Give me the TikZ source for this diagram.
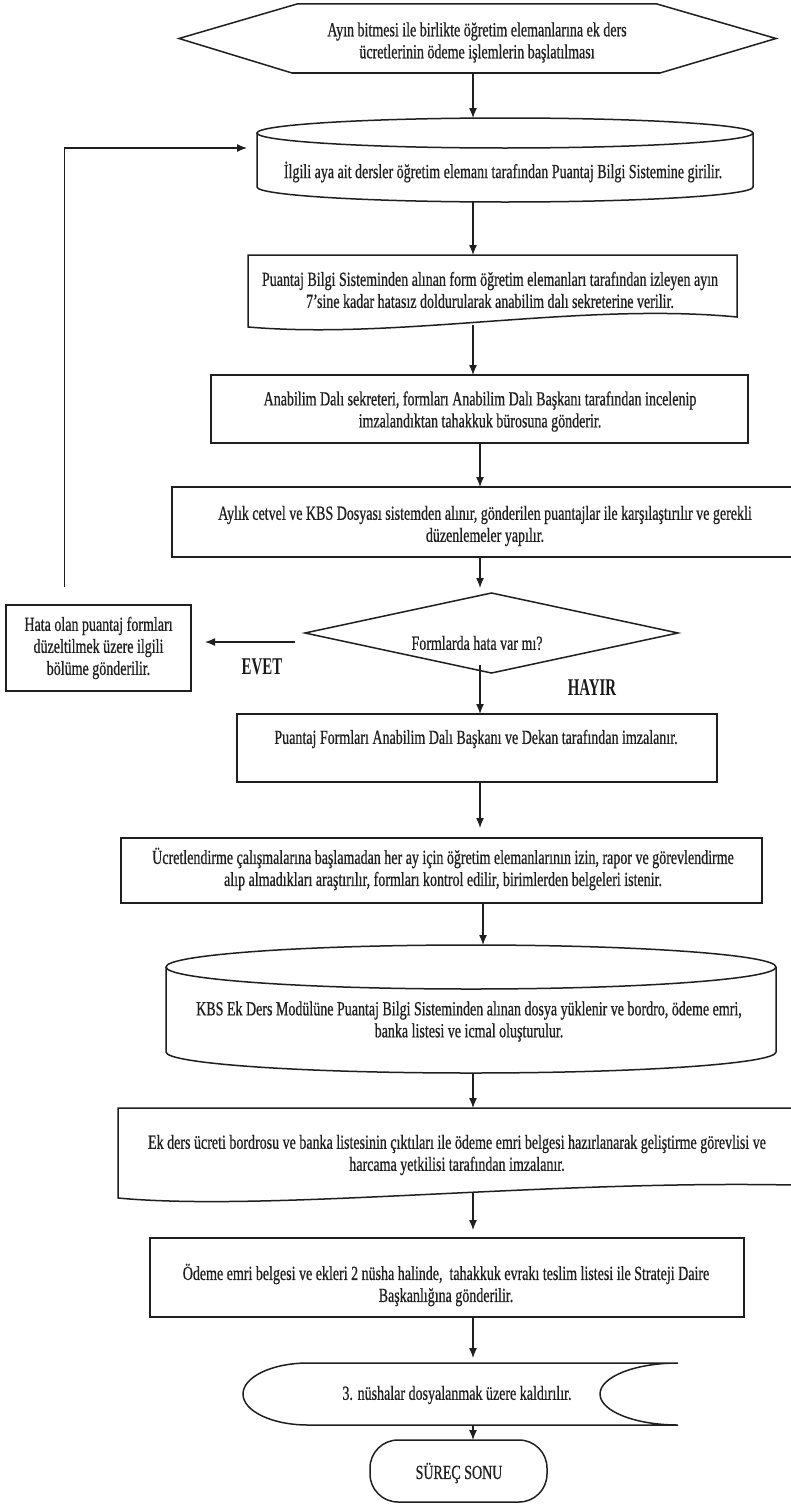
\documentclass[tikz,border=0pt]{standalone}
\usepackage{fontspec}
\setmainfont{Liberation Serif}
\newfontfamily\tf[FakeStretch=0.70,FakeBold=0.6]{Liberation Serif}
\newfontfamily\lf[FakeStretch=0.62]{Liberation Serif}
\usetikzlibrary{arrows.meta,calc}
\begin{document}
\begin{tikzpicture}[x=1pt,y=1pt,
  outl/.style={draw=black!88, line width=1.5pt, line join=miter},
  sh/.style={inner sep=0pt, outer sep=0pt, draw=none},
  bx/.style={sh, outl},
  txt/.style={inner sep=0pt, align=center, font=\tf\fontsize{20}{22}\selectfont, text=black!88},
  lab/.style={inner sep=0pt, font=\lf\bfseries\fontsize{24}{26}\selectfont, text=black!90},
  arr/.style={draw=black!88, line width=1.3pt, -{Latex[length=10pt,width=8pt]}}]
\fill[white] (0,0) rectangle (790,-1504);
\useasboundingbox (0,0) rectangle (790,-1504);
\coordinate (sa) at (473,0);
\coordinate (sb) at (480,0);
\coordinate (sc) at (483,0);

% start hexagon
\node[sh, minimum width=597pt, minimum height=69pt] (hex) at (477.5,-38.5) {};
\draw[outl] (hex.west) -- ($(hex.north west)+(118,0)$) -- ($(hex.north east)+(-119,0)$) -- (hex.east) -- ($(hex.south east)+(-116,0)$) -- ($(hex.south west)+(113,0)$) -- cycle;
\node[txt] (hext) at (477,-42.5) {Ayın bitmesi ile birlikte öğretim elemanlarına ek ders\\ücretlerinin ödeme işlemlerin başlatılması};

% cylinder 1
\node[sh, minimum width=496pt, minimum height=84pt] (cyl1) at (505,-160) {};
\draw[outl] ($(cyl1.north west)+(0,-15)$) -- ($(cyl1.south west)+(0,15)$) arc[start angle=180,end angle=360,x radius=248,y radius=15] -- ($(cyl1.north east)+(0,-15)$);
\draw[outl] ($(cyl1.north)+(0,-15)$) ellipse[x radius=248,y radius=15];
\node[txt] (cyl1t) at (503,-172) {İlgili aya ait dersler öğretim elemanı tarafından Puantaj Bilgi Sistemine girilir.};

% document 1
\node[sh, minimum width=489pt, minimum height=70pt] (doc1) at (492.5,-290) {};
\draw[outl] (doc1.north west) -- (doc1.north east) -- ($(doc1.south east)+(0,8)$) .. controls +(-157,15) and +(152,-13) .. ($(doc1.south west)+(0,-2)$) -- cycle;
\node[txt] (doc1t) at (490,-290) {Puantaj Bilgi Sisteminden alınan form öğretim elemanları tarafından izleyen ayın\\7’sine kadar hatasız doldurularak anabilim dalı sekreterine verilir.};

% rect 2
\node[bx, minimum width=537pt, minimum height=68pt] (r2) at (479.5,-409) {};
\node[txt] (r2t) at (480,-411.5) {Anabilim Dalı sekreteri, formları Anabilim Dalı Başkanı tarafından incelenip\\imzalandıktan tahakkuk bürosuna gönderir.};

% rect 3
\node[bx, minimum width=620pt, minimum height=70pt] (r3) at (482,-522) {};
\node[txt] (r3t) at (485,-526) {Aylık cetvel ve KBS Dosyası sistemden alınır, gönderilen puantajlar ile karşılaştırılır ve gerekli\\düzenlemeler yapılır.};

% decision
\node[sh, minimum width=373pt, minimum height=80pt] (dia) at (491.5,-633) {};
\draw[outl] (dia.north) -- (dia.east) -- (dia.south) -- (dia.west) -- cycle;
\node[txt] (diat) at (477,-643) {Formlarda hata var mı?};

% left box
\node[bx, minimum width=185pt, minimum height=86pt] (lbox) at (98.5,-648) {};
\node[txt] (lboxt) at (98.5,-648) {Hata olan puantaj formları\\düzeltilmek üzere ilgili\\bölüme gönderilir.};

\node[lab] (evet) at (262,-667) {EVET};
\node[lab] (hayir) at (592,-688) {HAYIR};

% rect 4
\node[bx, minimum width=480pt, minimum height=68pt] (r4) at (477,-748) {};
\node[txt] (r4t) at (476,-739) {Puantaj Formları Anabilim Dalı Başkanı ve Dekan tarafından imzalanır.};

% rect 5
\node[bx, minimum width=641pt, minimum height=65pt] (r5) at (441.5,-870.5) {};
\node[txt] (r5t) at (443,-869) {Ücretlendirme çalışmalarına başlamadan her ay için öğretim elemanlarının izin, rapor ve görevlendirme\\alıp almadıkları araştırılır, formları kontrol edilir, birimlerden belgeleri istenir.};

% cylinder 2
\node[sh, minimum width=610pt, minimum height=128pt] (cyl2) at (471,-1009) {};
\draw[outl] ($(cyl2.north west)+(0,-22)$) -- ($(cyl2.south west)+(0,21)$) arc[start angle=180,end angle=360,x radius=305,y radius=21] -- ($(cyl2.north east)+(0,-22)$);
\draw[outl] ($(cyl2.north)+(0,-22)$) ellipse[x radius=305,y radius=22];
\node[txt] (cyl2t) at (469,-1021.5) {KBS Ek Ders Modülüne Puantaj Bilgi Sisteminden alınan dosya yüklenir ve bordro, ödeme emri,\\banka listesi ve icmal oluşturulur.};

% document 2
\node[sh, minimum width=674pt, minimum height=85pt] (doc2) at (455,-1150.5) {};
\draw[outl] (doc2.north west) -- (doc2.north east) -- ($(doc2.south east)+(0,8)$) .. controls +(-250,5) and +(150,-14) .. ($(doc2.south west)+(0,-5)$) -- cycle;
\node[txt] (doc2t) at (457,-1155) {Ek ders ücreti bordrosu ve banka listesinin çıktıları ile ödeme emri belgesi hazırlanarak geliştirme görevlisi ve\\harcama yetkilisi tarafından imzalanır.};

% rect 6
\node[bx, minimum width=594pt, minimum height=79pt] (r6) at (447,-1277.5) {};
\node[txt] (r6t) at (446,-1285) {Ödeme emri belgesi ve ekleri 2 nüsha halinde,\ \ tahakkuk evrakı teslim listesi ile Strateji Daire\\Başkanlığına gönderilir.};

% stored data
\node[sh, minimum width=435pt, minimum height=62pt] (st) at (460.5,-1394) {};
\draw[outl] (st.north east) -- ($(st.north west)+(65,0)$) arc[start angle=90,end angle=270,x radius=65,y radius=31] -- (st.south east) arc[start angle=270,end angle=90,x radius=78,y radius=31];
\node[txt] (stt) at (457,-1395) {3. nüshalar dosyalanmak üzere kaldırılır.};

% terminator
\node[sh, outl, rounded corners=28pt, minimum width=177pt, minimum height=62pt] (term) at (458.5,-1471) {};
\node[txt] (termt) at (459,-1473) {SÜREÇ SONU};

% connectors
\draw[arr] (hex.south -| sa) -- (cyl1.north -| sa);
\draw[arr] (cyl1.south -| sa) -- (doc1.north -| sa);
\draw[arr] (doc1.south -| sa) -- (r2.north -| sa);
\draw[arr] (r2.south -| sb) -- (r3.north -| sb);
\draw[arr, shorten >=5pt] (r3.south -| sb) -- (dia.north -| sb);
\draw[arr, shorten <=-8pt] (dia.south -| sb) -- (r4.north -| sb);
\draw[arr, shorten >=10pt] (r4.south -| sb) -- (r5.north -| sb);
\draw[arr] (r5.south -| sc) -- (cyl2.north -| sc);
\draw[arr] (cyl2.south -| sa) -- (doc2.north -| sa);
\draw[arr, shorten >=8pt] (doc2.south -| sa) -- (r6.north -| sa);
\draw[arr, shorten >=5pt] (r6.south -| sa) -- (st.north -| sa);
\draw[arr] (st.south -| sa) -- (term.north -| sa);
\coordinate (ev) at (295,-642);
\draw[arr, shorten >=14pt] (ev) -- (ev -| lbox.east);
\coordinate (lp) at (64.5,-148);
\draw[arr, shorten <=18pt, shorten >=10pt] (lbox.north -| lp) -- (lp) -- (lp -| cyl1.west);
\end{tikzpicture}
\end{document}
